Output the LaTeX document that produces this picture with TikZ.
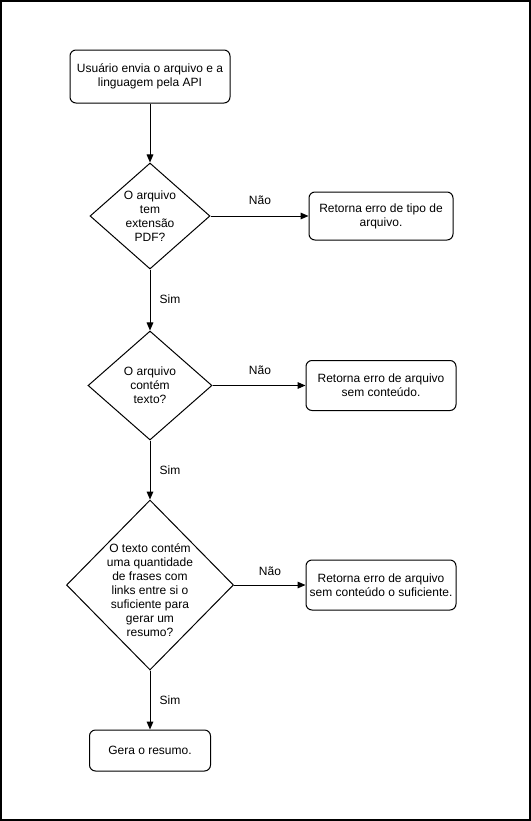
\documentclass[tikz,border=0pt]{standalone}
\usepackage{fontspec}
\setmainfont{Liberation Sans}
\usetikzlibrary{shapes.geometric,arrows.meta}
\begin{document}
\begin{tikzpicture}[x=0.75pt,y=-0.75pt,
  every node/.style={font=\fontsize{9pt}{10.5pt}\selectfont},
  proc/.style={draw,line width=0.75pt,rounded corners=4.5pt,align=center,inner sep=0pt},
  dec/.style={draw,line width=0.75pt,diamond,inner sep=0pt},
  lbl/.style={inner sep=0pt},
  conn/.style={line width=0.75pt,-{Triangle[length=6pt,width=5pt]}}]
\useasboundingbox (0,0) rectangle (531,821);
\draw[line width=1.2pt] (1,1) rectangle (530,820);
\node[proc,minimum width=120pt,minimum height=39.75pt] (start) at (150,76.5) {Usuário envia o arquivo e a\\linguagem pela API};
\node[dec,minimum width=90pt,minimum height=79.5pt,label={[align=center]center:O arquivo\\tem\\extensão\\PDF?}] (d1) at (150,216) {};
\node[proc,minimum width=108pt,minimum height=36pt] (e1) at (381,216) {Retorna erro de tipo de\\arquivo.};
\node[dec,minimum width=93pt,minimum height=81.75pt,label={[align=center]center:O arquivo\\contém\\texto?}] (d2) at (150,385.5) {};
\node[proc,minimum width=112.5pt,minimum height=37.5pt] (e2) at (381,385.5) {Retorna erro de arquivo\\sem conteúdo.};
\node[dec,minimum width=125.25pt,minimum height=127.5pt,label={[align=center,yshift=-4pt]center:O texto contém\\uma quantidade\\de frases com\\links entre si o\\suficiente para\\gerar um\\resumo?}] (d3) at (150,585) {};
\node[proc,minimum width=112.5pt,minimum height=37.5pt] (e3) at (381,585) {Retorna erro de arquivo\\sem conteúdo o suficiente.};
\node[proc,minimum width=90.75pt,minimum height=30.75pt] (fim) at (150,750.5) {Gera o resumo.};
\draw[conn] (start) -- (d1);
\draw[conn] (d1) -- (e1);
\draw[conn] (d1) -- (d2);
\draw[conn] (d2) -- (e2);
\draw[conn] (d2) -- (d3);
\draw[conn] (d3) -- (e3);
\draw[conn] (d3) -- (fim);
\node[lbl] (n1) at (260,200) {Não};
\node[lbl] (n2) at (260,370) {Não};
\node[lbl] (n3) at (270,571) {Não};
\node[lbl] (s1) at (170,299) {Sim};
\node[lbl] (s2) at (170,470) {Sim};
\node[lbl] (s3) at (170,700) {Sim};
\end{tikzpicture}
\end{document}
